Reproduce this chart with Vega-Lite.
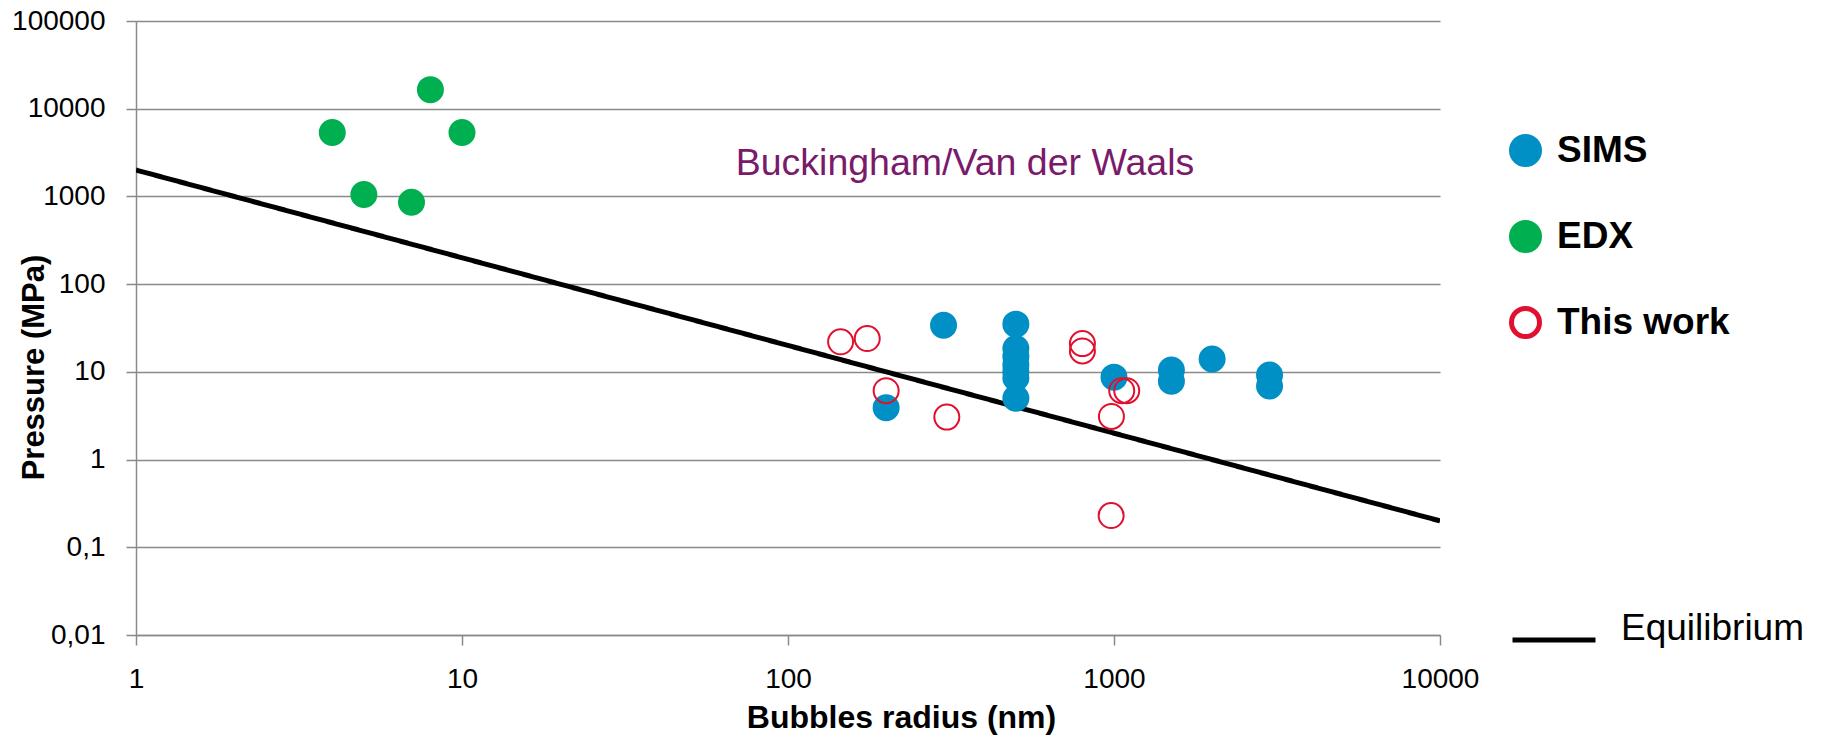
{
  "$schema": "https://vega.github.io/schema/vega-lite/v6.json",
  "autosize": {"type": "none"},
  "padding": {"left": 136, "top": 21, "right": 381, "bottom": 101},
  "width": 1304,
  "height": 614,
  "background": "white",
  "config": {"view": {"stroke": null}, "font": "Liberation Sans"},
  "datasets": {
    "equilibrium": [
      {"radius": 1, "pressure": 2000, "series": "Equilibrium"},
      {"radius": 10000, "pressure": 0.2, "series": "Equilibrium"}
    ],
    "points": [
      {"series": "SIMS", "radius": 200, "pressure": 3.9},
      {"series": "SIMS", "radius": 300, "pressure": 34},
      {"series": "SIMS", "radius": 500, "pressure": 35},
      {"series": "SIMS", "radius": 500, "pressure": 18.5},
      {"series": "SIMS", "radius": 500, "pressure": 15},
      {"series": "SIMS", "radius": 500, "pressure": 12},
      {"series": "SIMS", "radius": 500, "pressure": 10},
      {"series": "SIMS", "radius": 500, "pressure": 8.5},
      {"series": "SIMS", "radius": 500, "pressure": 5},
      {"series": "SIMS", "radius": 1000, "pressure": 8.7},
      {"series": "SIMS", "radius": 1500, "pressure": 10.5},
      {"series": "SIMS", "radius": 1500, "pressure": 7.8},
      {"series": "SIMS", "radius": 2000, "pressure": 14},
      {"series": "SIMS", "radius": 3000, "pressure": 9.2},
      {"series": "SIMS", "radius": 3000, "pressure": 6.9},
      {"series": "EDX", "radius": 4, "pressure": 5350},
      {"series": "EDX", "radius": 5, "pressure": 1050},
      {"series": "EDX", "radius": 7, "pressure": 860},
      {"series": "EDX", "radius": 8, "pressure": 16500},
      {"series": "EDX", "radius": 10, "pressure": 5350},
      {"series": "This work", "radius": 145, "pressure": 22},
      {"series": "This work", "radius": 175, "pressure": 24},
      {"series": "This work", "radius": 200, "pressure": 6.1},
      {"series": "This work", "radius": 307, "pressure": 3.05},
      {"series": "This work", "radius": 800, "pressure": 21},
      {"series": "This work", "radius": 800, "pressure": 17.3},
      {"series": "This work", "radius": 982, "pressure": 3.1},
      {"series": "This work", "radius": 1056, "pressure": 6.1},
      {"series": "This work", "radius": 1094, "pressure": 6.1},
      {"series": "This work", "radius": 980, "pressure": 0.23}
    ],
    "annotation": [
      {"radius": 349, "pressure": 1750, "label": "Buckingham/Van der Waals"}
    ]
  },
  "layer": [
    {
      "data": {"name": "equilibrium"},
      "mark": {"type": "line", "color": "black", "strokeWidth": 5, "clip": true},
      "encoding": {
        "x": {
          "field": "radius", "type": "quantitative",
          "scale": {"type": "log", "domain": [1, 10000], "nice": false},
          "axis": {
            "values": [1, 10, 100, 1000, 10000],
            "format": "d",
            "grid": false,
            "domain": true, "domainColor": "#8a8a8a", "domainWidth": 1.5,
            "ticks": true, "tickColor": "#8a8a8a", "tickSize": 10, "tickWidth": 1.5,
            "labelFontSize": 28, "labelColor": "black", "labelFont": "Liberation Sans",
            "labelPadding": 20, "labelFlush": false, "labelOverlap": false,
            "title": "Bubbles radius (nm)",
            "titleFontSize": 32, "titleFontWeight": "bold", "titleColor": "black", "titleFont": "Liberation Sans",
            "titleX": 765, "titleY": 92, "titleBaseline": "alphabetic", "titleAlign": "center"
          }
        },
        "y": {
          "field": "pressure", "type": "quantitative",
          "scale": {"type": "log", "domain": [0.01, 100000], "nice": false},
          "axis": {
            "values": [0.01, 0.1, 1, 10, 100, 1000, 10000, 100000],
            "labelExpr": "replace(toString(datum.value), '.', ',')",
            "grid": true, "gridColor": "#8a8a8a", "gridWidth": 1.5,
            "domain": true, "domainColor": "#8a8a8a", "domainWidth": 1.5,
            "ticks": true, "tickColor": "#8a8a8a", "tickSize": 10, "tickWidth": 1.5,
            "labelFontSize": 28, "labelColor": "black", "labelFont": "Liberation Sans",
            "labelPadding": 21, "labelOverlap": false,
            "title": "Pressure (MPa)",
            "titleFontSize": 31, "titleFontWeight": "bold", "titleColor": "black", "titleFont": "Liberation Sans",
            "titleX": -93, "titleY": 346, "titleAngle": 270, "titleBaseline": "alphabetic", "titleAlign": "center"
          }
        },
        "strokeDash": {
          "field": "series", "type": "nominal",
          "scale": {"domain": ["Equilibrium"], "range": [[1, 0]]},
          "legend": {
            "orient": "none", "legendX": 1374, "legendY": 575,
            "title": null, "padding": 0,
            "symbolType": "stroke", "symbolSize": 6889, "symbolStrokeWidth": 5, "symbolStrokeColor": "black",
            "labelFontSize": 37, "labelFont": "Liberation Sans", "labelColor": "black",
            "labelOffset": 23, "labelBaseline": "alphabetic", "labelLimit": 400
          }
        }
      }
    },
    {
      "data": {"name": "points"},
      "mark": {"type": "circle", "size": 625, "strokeWidth": 2, "opacity": 1},
      "encoding": {
        "x": {"field": "radius", "type": "quantitative"},
        "y": {"field": "pressure", "type": "quantitative"},
        "fill": {
          "field": "series", "type": "nominal",
          "scale": {"domain": ["SIMS", "EDX", "This work"], "range": ["#0090C5", "#00AF50", "transparent"]},
          "legend": {
            "orient": "none", "legendX": 1371, "legendY": 111,
            "title": null, "padding": 0,
            "symbolType": "circle", "symbolSize": 784, "symbolStrokeWidth": 5, "symbolOpacity": 1,
            "labelFontSize": 37, "labelFont": "Liberation Sans", "labelFontWeight": "bold", "labelColor": "black",
            "rowPadding": 37, "labelOffset": 13, "labelLimit": 400
          }
        },
        "stroke": {
          "field": "series", "type": "nominal",
          "scale": {"domain": ["SIMS", "EDX", "This work"], "range": ["#0090C5", "#00AF50", "#E0102E"]},
          "legend": {
            "orient": "none", "legendX": 1371, "legendY": 111,
            "title": null, "padding": 0,
            "symbolType": "circle", "symbolSize": 784, "symbolStrokeWidth": 5, "symbolOpacity": 1,
            "labelFontSize": 37, "labelFont": "Liberation Sans", "labelFontWeight": "bold", "labelColor": "black",
            "rowPadding": 37, "labelOffset": 13, "labelLimit": 400
          }
        }
      }
    },
    {
      "data": {"name": "annotation"},
      "mark": {"type": "text", "fontSize": 37.5, "font": "Liberation Sans", "color": "#7A1A6A", "align": "center", "baseline": "alphabetic"},
      "encoding": {
        "x": {"field": "radius", "type": "quantitative"},
        "y": {"field": "pressure", "type": "quantitative"},
        "text": {"field": "label", "type": "nominal"}
      }
    }
  ]
}
